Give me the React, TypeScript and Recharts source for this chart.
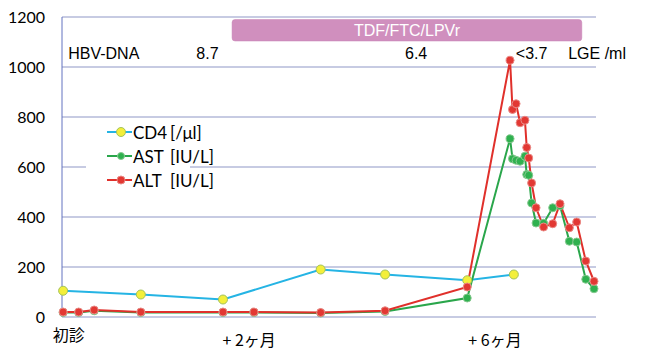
import React from 'react';
import { LineChart, Line, XAxis, YAxis, CartesianGrid, ReferenceArea, ReferenceDot } from 'recharts';

// ---- data ----
const cd4Days = [0, 35, 72, 116, 145, 182, 203];
const cd4Values = [105, 90, 70, 190, 170, 147, 170];

const liverDays = [0, 7, 14, 35, 72, 86, 116, 145, 182, 201.3, 202.4, 204, 205.8, 208, 208.8, 209.7, 211, 213, 216.4, 220.5, 223.8, 228, 231.3, 235.4, 239.1];
const altValues = [20, 20, 28, 20, 20, 20, 18, 25, 120, 1027, 830, 853, 777, 787, 678, 636, 536, 437, 360, 373, 453, 357, 380, 224, 143];
const astValues = [18, 18, 25, 18, 18, 18, 16, 22, 76, 713, 633, 627, 623, 643, 570, 567, 456, 376, 375, 437, 445, 303, 300, 151, 113];

const yTicks = [0, 200, 400, 600, 800, 1000, 1200];
const xTickDays = [2.5, 83.8, 194.5];
const xTickLabels = ['初診', '+ 2ヶ月', '+ 6ヶ月'];

const seriesNames = ['CD4', 'AST', 'ALT'];
const seriesUnits = ['[/μl]', '[IU/L]', '[IU/L]'];

const therapyLabel = 'TDF/FTC/LPVr';
const therapyStart = 76.1;
const therapyEnd = 233.6;
const therapyLow = 1104;
const therapyHigh = 1190;

const hbvTitle = 'HBV-DNA';
const hbvUnit = 'LGE /ml';
const hbvDays = [65, 159, 211];
const hbvValues = ['8.7', '6.4', '<3.7'];
const hbvRowLevel = 1055;

// ---- styles ----
const GRID = '#8f97c6';
const AXIS = '#6373c0';
const CD4_LINE = '#25b4e4';
const CD4_FILL = '#f3ef3a';
const CD4_EDGE = '#a3c25c';
const AST_LINE = '#2aa64b';
const AST_FILL = '#2fb14f';
const AST_EDGE = '#86c98f';
const ALT_LINE = '#e0302b';
const ALT_FILL = '#e23833';
const ALT_EDGE = '#ea8a86';
const SANS = '"Liberation Sans", Arial, sans-serif';
const HUMAN = 'Lato, "Open Sans", sans-serif';
const CJK = '"Noto Sans CJK JP", sans-serif';

const cd4Data = cd4Days.map((d, i) => ({ day: d, v: cd4Values[i] }));
const astData = liverDays.map((d, i) => ({ day: d, v: astValues[i] }));
const altData = liverDays.map((d, i) => ({ day: d, v: altValues[i] }));

const XTick = (props: any) => {
  const { x, y, index } = props;
  const label = xTickLabels[index] ?? '';
  const dy = index === 0 ? 9 : 14;
  return (
    <text x={x} y={y + dy} textAnchor="middle" dominantBaseline="central" fontFamily={CJK} fontSize={16} fill="#000">
      {label}
    </text>
  );
};

const makeHbvLabel = (text: string, anchor: 'start' | 'middle') => (props: any) => {
  const vb = props.viewBox || {};
  const cx = (vb.x ?? 0) + (vb.width ?? 0) / 2;
  const cy = (vb.y ?? 0) + (vb.height ?? 0) / 2;
  return (
    <text x={cx} y={cy} textAnchor={anchor} dominantBaseline="central" fontFamily={SANS} fontSize={16} fill="#000">
      {text}
    </text>
  );
};

const legendColors = [
  { line: CD4_LINE, fill: CD4_FILL, edge: CD4_EDGE, r: 4.5 },
  { line: AST_LINE, fill: AST_FILL, edge: AST_EDGE, r: 3.5 },
  { line: ALT_LINE, fill: ALT_FILL, edge: ALT_EDGE, r: 4 },
];

export default function App() {
  return (
    <div style={{ position: 'absolute', left: 0, top: 0, width: 647, height: 360, background: '#fff' }}>
      <LineChart width={647} height={360} data={altData} margin={{ top: 17, right: 51, bottom: 13, left: 12 }}>
        <CartesianGrid horizontal vertical={false} stroke={GRID} strokeWidth={1} />
        <XAxis
          type="number"
          dataKey="day"
          domain={[-0.5, 240]}
          ticks={xTickDays}
          axisLine={false}
          tickLine={false}
          height={30}
          tick={<XTick />}
        />
        <YAxis
          type="number"
          domain={[0, 1200]}
          ticks={yTicks}
          width={50}
          axisLine={{ stroke: AXIS, strokeWidth: 1 }}
          tickLine={false}
          tickMargin={11}
          tick={{ fontFamily: HUMAN, fontSize: 16, fill: '#000' }}
        />
        <ReferenceArea
          x1={therapyStart}
          x2={therapyEnd}
          y1={therapyLow}
          y2={therapyHigh}
          fill="#d08fbe"
          fillOpacity={1}
          stroke="#c683b5"
          strokeWidth={0.5}
          radius={3}
          ifOverflow="visible"
          label={{ value: therapyLabel, position: 'center', fill: '#fff', fontSize: 16, fontFamily: SANS }}
        />
        <ReferenceDot x={2.3} y={hbvRowLevel} r={0} fill="none" stroke="none" ifOverflow="visible" label={makeHbvLabel(hbvTitle, 'start')} />
        {hbvDays.map((d, i) => (
          <ReferenceDot key={i} x={d} y={hbvRowLevel} r={0} fill="none" stroke="none" ifOverflow="visible" label={makeHbvLabel(hbvValues[i], 'middle')} />
        ))}
        <ReferenceDot x={240.5} y={hbvRowLevel} r={0} fill="none" stroke="none" ifOverflow="visible" label={makeHbvLabel(hbvUnit, 'middle')} />
        <Line
          data={cd4Data}
          dataKey="v"
          name={seriesNames[0]}
          stroke={CD4_LINE}
          strokeWidth={2}
          dot={{ r: 4.5, fill: CD4_FILL, stroke: CD4_EDGE, strokeWidth: 1 }}
          isAnimationActive={false}
        />
        <Line
          data={astData}
          dataKey="v"
          name={seriesNames[1]}
          stroke={AST_LINE}
          strokeWidth={2}
          dot={{ r: 4, fill: AST_FILL, stroke: AST_EDGE, strokeWidth: 1 }}
          isAnimationActive={false}
        />
        <Line
          data={altData}
          dataKey="v"
          name={seriesNames[2]}
          stroke={ALT_LINE}
          strokeWidth={2}
          dot={{ r: 4, fill: ALT_FILL, stroke: ALT_EDGE, strokeWidth: 1 }}
          isAnimationActive={false}
        />
      </LineChart>
      <div style={{ position: 'absolute', left: 86, top: 120, width: 104, height: 72, background: '#fff' }}>
        {seriesNames.map((n, i) => (
          <div key={n} style={{ position: 'absolute', left: 20, top: i * 24, width: 200, height: 24, display: 'flex', alignItems: 'center', whiteSpace: 'nowrap' }}>
            <svg width={27} height={24} style={{ display: 'block', flexShrink: 0 }}>
              <line x1={1} y1={12} x2={26} y2={12} stroke={legendColors[i].line} strokeWidth={2} />
              <circle cx={15} cy={12} r={legendColors[i].r} fill={legendColors[i].fill} stroke={legendColors[i].edge} strokeWidth={1} />
            </svg>
            <span style={{ fontFamily: HUMAN, fontSize: 17, color: '#000', width: 37, flexShrink: 0, display: 'inline-block' }}>{n}</span>
            <span style={{ fontFamily: HUMAN, fontSize: 17, color: '#000', flexShrink: 0 }}>{seriesUnits[i]}</span>
          </div>
        ))}
      </div>
    </div>
  );
}
